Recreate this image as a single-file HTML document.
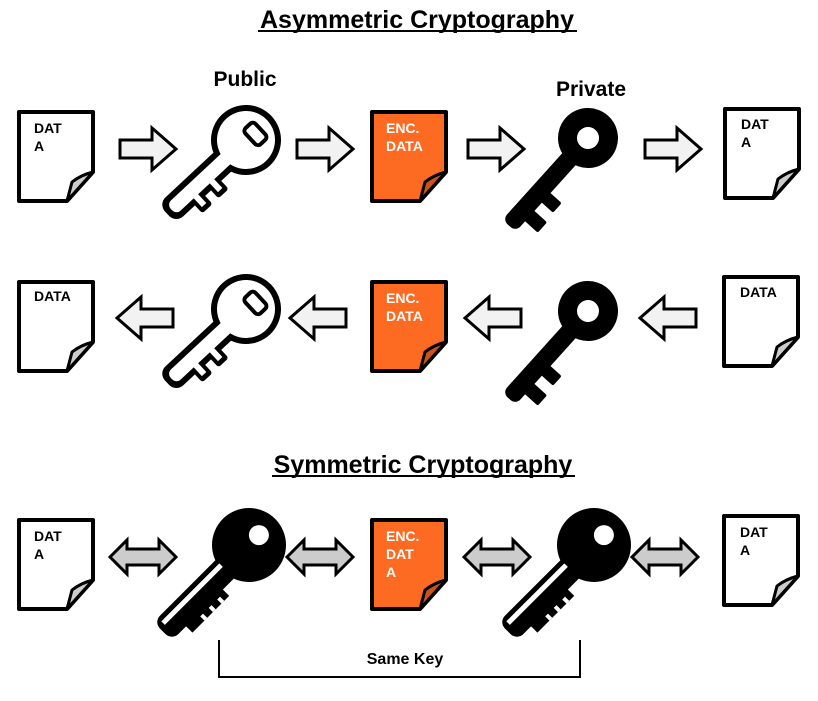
<!DOCTYPE html>
<html><head><style>
html,body{margin:0;padding:0;background:#fff;}
svg{display:block;}
text{font-family:"Liberation Sans",Arial,sans-serif;font-weight:bold;}
</style></head><body>
<svg width="818" height="701" viewBox="0 0 818 701" xmlns="http://www.w3.org/2000/svg">
<defs>
<g id="doc">
  <path d="M2,2 H76 V62 L50,91 H2 Z" fill="#fff" stroke="#000" stroke-width="4" stroke-linejoin="round"/>
  <path d="M50,91 L55,72 Q64,65 76,62 Z" fill="#ccc" stroke="#000" stroke-width="3" stroke-linejoin="round"/>
</g>
<g id="enc">
  <path d="M2,2 H76 V62 L50,91 H2 Z" fill="#fd6a21" stroke="#000" stroke-width="4" stroke-linejoin="round"/>
  <path d="M50,91 L55,72 Q64,65 76,62 Z" fill="#c9531a" stroke="#000" stroke-width="3" stroke-linejoin="round"/>
</g>
<path id="ar" d="M0,12 H32 V0 L56,21 L32,42 V30 H0 Z" fill="#f2f2f2" stroke="#000" stroke-width="3"/>
<path id="al" d="M56,12 H24 V0 L0,21 L24,42 V30 H56 Z" fill="#f2f2f2" stroke="#000" stroke-width="3"/>
<path id="ad" d="M0,19 L17,2 V11 H49 V2 L66,19 L49,36 V27 H17 V36 Z" fill="#ccc" stroke="#000" stroke-width="3"/>
<g id="pubkey">
  <circle r="35" fill="#000"/>
  <rect x="20" y="-13" width="88" height="26" rx="10" fill="#000"/>
  <rect x="46" y="-24" width="14" height="14" rx="3" fill="#000"/>
  <rect x="68" y="-24" width="14" height="14" rx="3" fill="#000"/>
  <circle r="29" fill="#fff"/>
  <rect x="20" y="-7" width="82" height="14" rx="6" fill="#fff"/>
  <rect x="50" y="-19" width="6" height="14" fill="#fff"/>
  <rect x="72" y="-19" width="6" height="14" fill="#fff"/>
  <rect x="-22" y="-9" width="22" height="14" rx="4" fill="#fff" stroke="#000" stroke-width="4" transform="rotate(90 -11 -2)"/>
</g>
<g id="privkey">
  <rect x="15" y="-9" width="103" height="18" rx="7" fill="#000"/>
  <rect x="66" y="-24" width="13" height="18" rx="2" fill="#000"/>
  <rect x="90" y="-26" width="14" height="20" rx="2" fill="#000"/>
  <circle r="30" fill="#000"/>
  <circle r="11" fill="#fff"/>
</g>
<g id="symkey">
  <circle r="37" fill="#000"/>
  <rect x="20" y="-13" width="102" height="26" rx="9" fill="#000"/>
  <rect x="50" y="-22" width="52" height="12" fill="#000"/>
  <rect x="57" y="-22" width="4" height="6" fill="#fff"/>
  <rect x="69" y="-22" width="4" height="6" fill="#fff"/>
  <rect x="81" y="-22" width="4" height="6" fill="#fff"/>
  <rect x="34" y="3" width="82" height="5" fill="#fff"/>
  <circle cx="-14" cy="0" r="10" fill="#fff"/>
</g>
</defs>

<text x="417" y="28" font-size="25" text-anchor="middle">Asymmetric Cryptography</text>
<rect x="258" y="30" width="319" height="2" fill="#000"/>
<text x="245" y="86" font-size="21" text-anchor="middle">Public</text>
<text x="591" y="96" font-size="21" text-anchor="middle">Private</text>
<text x="423" y="473" font-size="25" text-anchor="middle">Symmetric Cryptography</text>
<rect x="272" y="475" width="303" height="2" fill="#000"/>

<!-- row 1 -->
<use href="#doc" x="17" y="110"/>
<text x="34" y="133" font-size="14">DAT</text><text x="34" y="151" font-size="14">A</text>
<use href="#ar" x="120" y="128"/>
<g transform="translate(246,140) rotate(137)"><use href="#pubkey"/></g>
<use href="#ar" x="297" y="128"/>
<use href="#enc" x="370" y="110"/>
<text x="386" y="133" font-size="14" fill="#fff">ENC.</text><text x="386" y="151" font-size="14" fill="#fff">DATA</text>
<use href="#ar" x="468" y="128"/>
<g transform="translate(588,138) rotate(132)"><use href="#privkey"/></g>
<use href="#ar" x="645" y="128"/>
<use href="#doc" x="723" y="107"/>
<text x="741" y="129" font-size="14">DAT</text><text x="741" y="147" font-size="14">A</text>

<!-- row 2 -->
<use href="#doc" x="17" y="280"/>
<text x="34" y="301" font-size="14">DATA</text>
<use href="#al" x="117" y="297"/>
<g transform="translate(246,309) rotate(137)"><use href="#pubkey"/></g>
<use href="#al" x="290" y="297"/>
<use href="#enc" x="370" y="280"/>
<text x="386" y="303" font-size="14" fill="#fff">ENC.</text><text x="386" y="321" font-size="14" fill="#fff">DATA</text>
<use href="#al" x="465" y="297"/>
<g transform="translate(588,311) rotate(132)"><use href="#privkey"/></g>
<use href="#al" x="640" y="297"/>
<use href="#doc" x="722" y="275"/>
<text x="740" y="297" font-size="14">DATA</text>

<!-- row 3 -->
<use href="#doc" x="17" y="518"/>
<text x="34" y="541" font-size="14">DAT</text><text x="34" y="559" font-size="14">A</text>
<use href="#ad" x="110" y="538"/>
<g transform="translate(249,545) rotate(135)"><use href="#symkey"/></g>
<use href="#ad" x="287" y="538"/>
<use href="#enc" x="370" y="518"/>
<text x="386" y="541" font-size="14" fill="#fff">ENC.</text><text x="386" y="559" font-size="14" fill="#fff">DAT</text><text x="386" y="577" font-size="14" fill="#fff">A</text>
<use href="#ad" x="464" y="538"/>
<g transform="translate(594,545) rotate(135)"><use href="#symkey"/></g>
<use href="#ad" x="632" y="538"/>
<use href="#doc" x="722" y="514"/>
<text x="740" y="537" font-size="14">DAT</text><text x="740" y="555" font-size="14">A</text>

<path d="M219,640 V677 H580 V640" fill="none" stroke="#000" stroke-width="2"/>
<text x="405" y="664" font-size="16" text-anchor="middle">Same Key</text>
</svg>
</body></html>
